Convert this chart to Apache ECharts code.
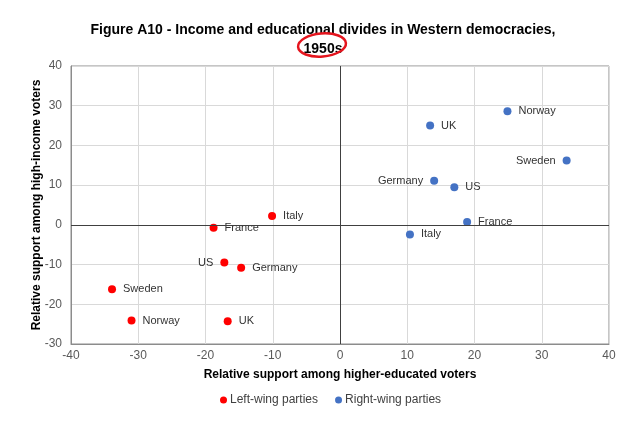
<!DOCTYPE html>
<html>
<head>
<meta charset="utf-8">
<script src="https://cdn.jsdelivr.net/npm/echarts@6/dist/echarts.min.js"></script>
<style>
  html, body { margin: 0; padding: 0; background: #fff; }
  #main { width: 637px; height: 429px; }
</style>
</head>
<body>
<div id="main"></div>
<script>
// countries and their (education, income) positions
var leftNames = ['Italy', 'France', 'US', 'Germany', 'Sweden', 'Norway', 'UK'];
var leftEdu = [-10.1, -18.8, -17.2, -14.7, -33.9, -31.0, -16.7];
var leftInc = [2.2, -0.75, -9.5, -10.8, -16.2, -24.1, -24.3];

var rightNames = ['UK', 'Norway', 'Sweden', 'Germany', 'US', 'France', 'Italy'];
var rightEdu = [13.4, 24.9, 33.7, 14.0, 17.0, 18.9, 10.4];
var rightInc = [25.0, 28.6, 16.2, 11.1, 9.5, 0.7, -2.4];

// labels drawn on the left of the point
var leftSideLabels = { 'Left-wing parties': ['US'], 'Right-wing parties': ['Germany', 'Sweden'] };

var font = 'Liberation Sans, Arial, sans-serif';

function buildPoints(seriesName, names, xs, ys) {
  var out = [];
  for (var i = 0; i < names.length; i++) {
    var onLeft = leftSideLabels[seriesName].indexOf(names[i]) >= 0;
    out.push({
      name: names[i],
      value: [xs[i], ys[i]],
      label: { position: onLeft ? 'left' : 'right' }
    });
  }
  return out;
}

var chart = echarts.init(document.getElementById('main'));

var option = {
  animation: false,
  backgroundColor: '#fff',
  title: {
    text: 'Figure A10 - Income and educational divides in Western democracies,\n1950s',
    left: 318,
    top: 16,
    textAlign: 'center',
    textStyle: { fontFamily: font, fontSize: 14, fontWeight: 'bold', color: '#000', lineHeight: 18.5 }
  },
  legend: {
    bottom: 18,
    left: 215,
    itemWidth: 7,
    itemHeight: 7,
    itemGap: 17,
    icon: 'circle',
    textStyle: { fontFamily: font, fontSize: 12, color: '#404040', padding: [0, 0, 0, -2] },
    data: ['Left-wing parties', 'Right-wing parties']
  },
  grid: {
    left: 71, right: 28, top: 66, bottom: 85,
    show: true, borderColor: '#8c8c8c', borderWidth: 1
  },
  xAxis: {
    type: 'value', min: -40, max: 40, interval: 10,
    name: 'Relative support among higher-educated voters',
    nameLocation: 'middle', nameGap: 25,
    nameMoveOverlap: false,
    nameTextStyle: { fontFamily: font, fontSize: 12, fontWeight: 'bold', color: '#000' },
    axisLine: { onZero: false, lineStyle: { color: '#8c8c8c' } },
    axisTick: { show: false },
    axisLabel: { fontFamily: font, fontSize: 12, color: '#595959', margin: 6 },
    splitLine: { lineStyle: { color: '#d9d9d9' } }
  },
  yAxis: {
    type: 'value', min: -30, max: 40, interval: 10,
    name: 'Relative support among high-income voters',
    nameLocation: 'middle', nameGap: 28,
    nameMoveOverlap: false,
    nameTextStyle: { fontFamily: font, fontSize: 12, fontWeight: 'bold', color: '#000' },
    axisLine: { onZero: false, lineStyle: { color: '#8c8c8c' } },
    axisTick: { show: false },
    axisLabel: { fontFamily: font, fontSize: 12, color: '#595959', margin: 9 },
    splitLine: { lineStyle: { color: '#d9d9d9' } }
  },
  series: [
    {
      name: 'Left-wing parties',
      type: 'scatter',
      symbolSize: 8,
      itemStyle: { color: '#ff0000', opacity: 1 },
      label: {
        show: true, formatter: '{b}', distance: 7,
        fontFamily: font, fontSize: 11, color: '#333'
      },
      data: buildPoints('Left-wing parties', leftNames, leftEdu, leftInc),
      markLine: {
        silent: true,
        symbol: 'none',
        label: { show: false },
        lineStyle: { color: '#404040', width: 1, type: 'solid' },
        data: [{ xAxis: 0 }, { yAxis: 0 }]
      }
    },
    {
      name: 'Right-wing parties',
      type: 'scatter',
      symbolSize: 8,
      itemStyle: { color: '#4472c4', opacity: 1 },
      label: {
        show: true, formatter: '{b}', distance: 7,
        fontFamily: font, fontSize: 11, color: '#333'
      },
      data: buildPoints('Right-wing parties', rightNames, rightEdu, rightInc)
    }
  ],
  graphic: [
    {
      // hand-drawn red ring around the decade
      type: 'ellipse',
      shape: { cx: 322, cy: 45, rx: 24, ry: 11.5 },
      rotation: 0.08,
      originX: 322, originY: 45,
      style: { fill: 'none', stroke: '#e5151e', lineWidth: 2.5 },
      z: 100
    }
  ]
};

chart.setOption(option);
</script>
</body>
</html>
